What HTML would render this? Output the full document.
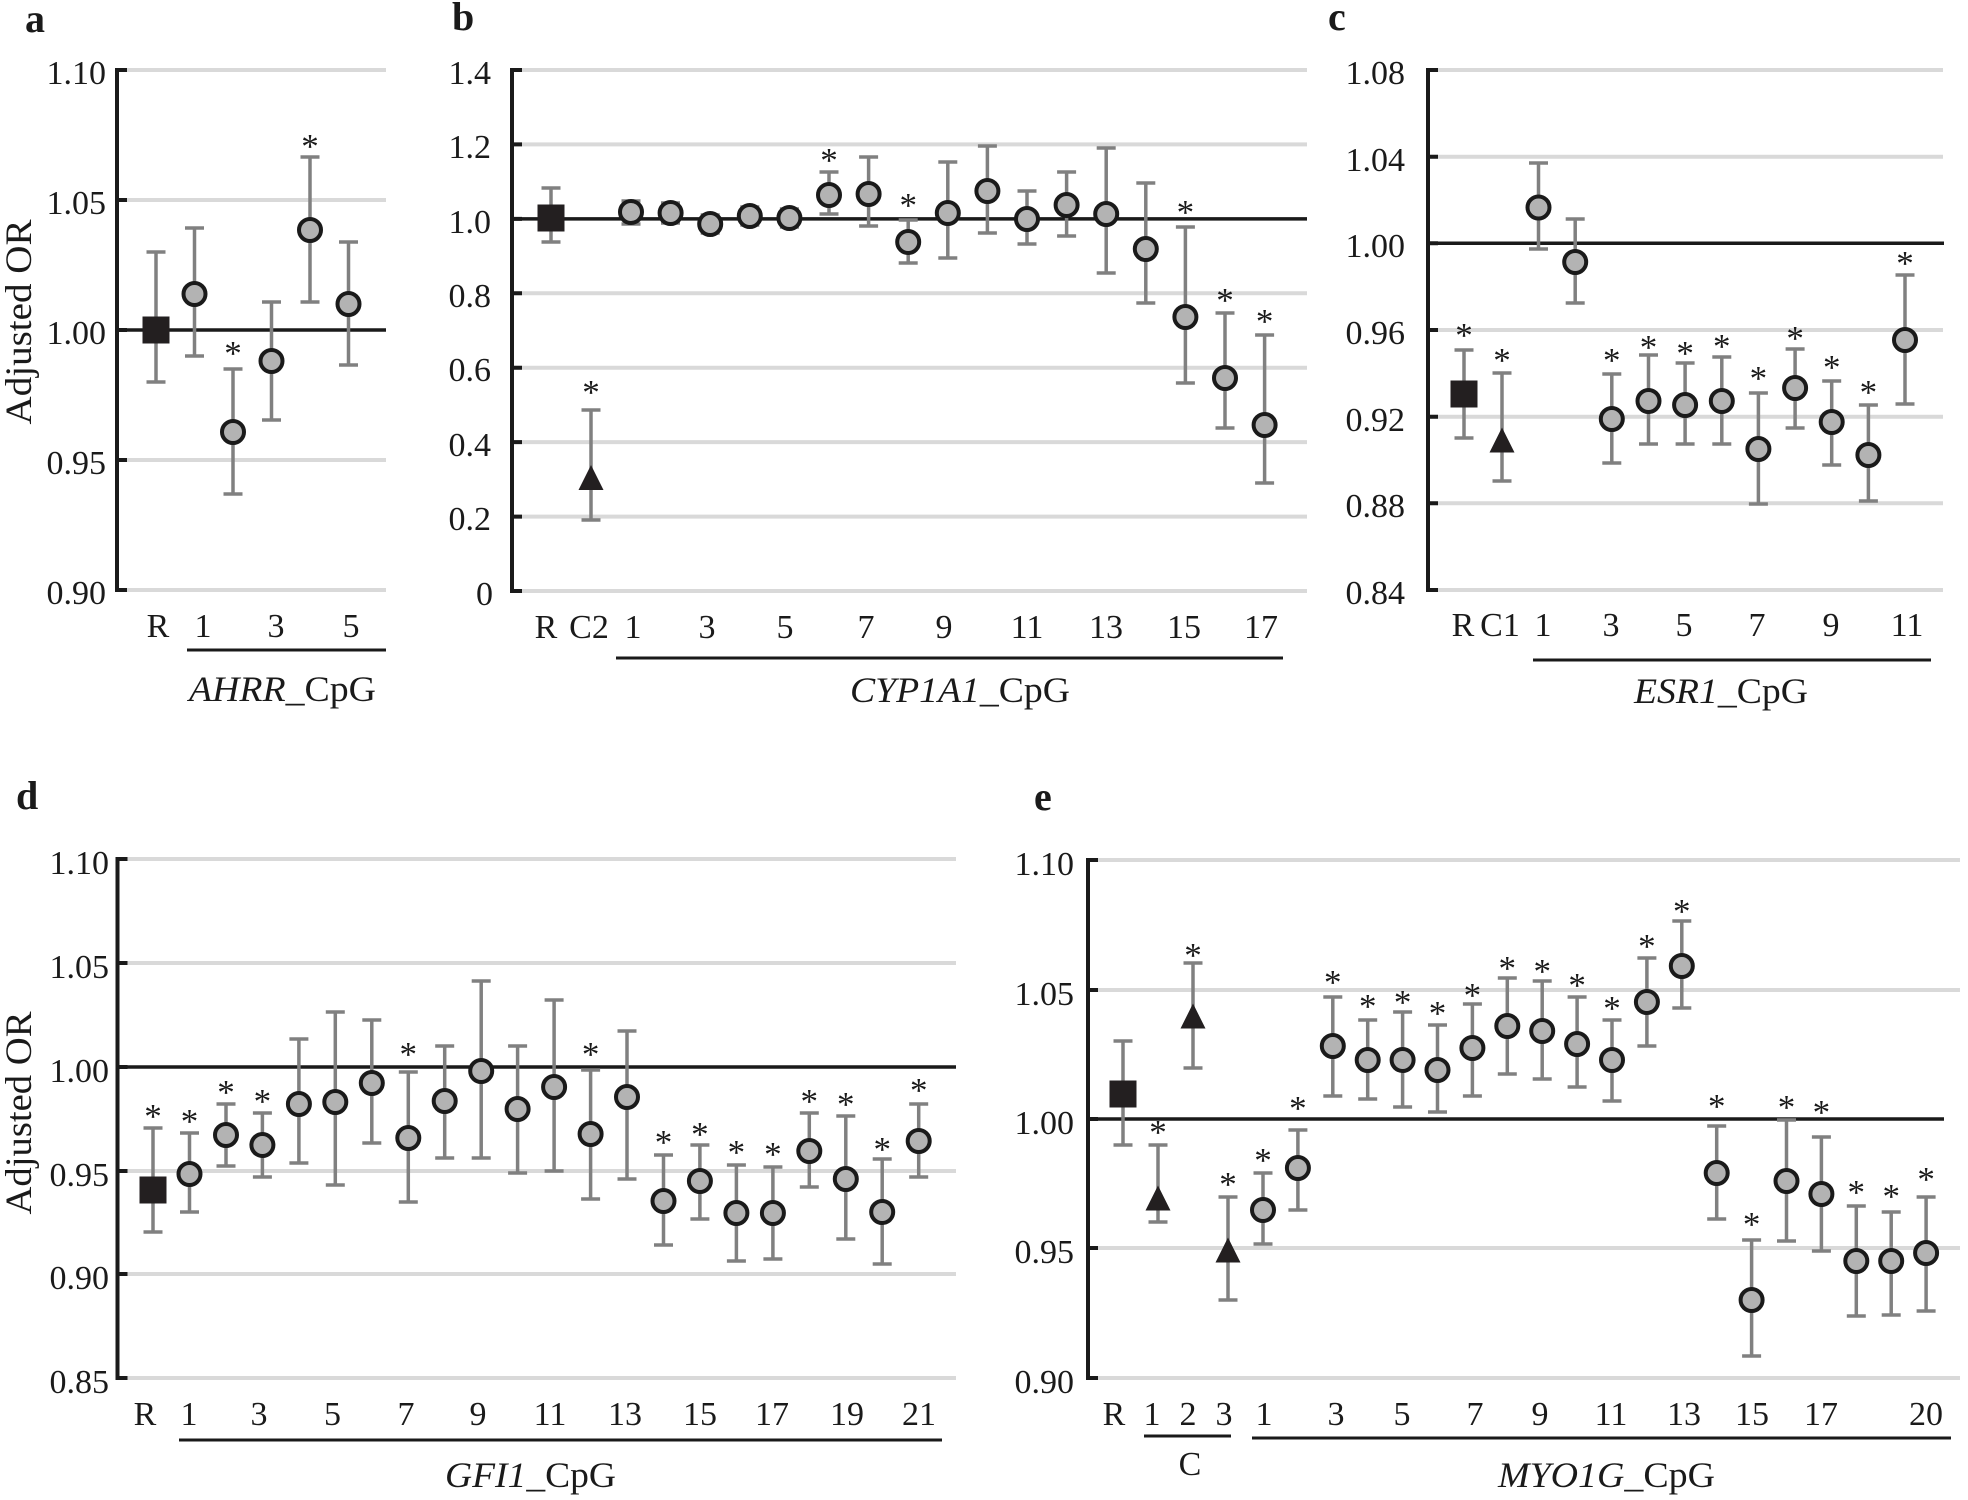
<!DOCTYPE html>
<html><head><meta charset="utf-8"><style>
html,body{margin:0;padding:0;background:#fff;}
svg{display:block;}
text{font-family:"Liberation Serif","Times New Roman",serif;fill:#1a1a1a;}
.t{font-size:34px;}
.ast{font-size:35px;text-anchor:middle;}
.lab{font-size:40px;font-weight:bold;}
.ttl{font-size:36px;}
.g{stroke:#d9d9d9;stroke-width:4;fill:none;}
.ax{stroke:#1a1a1a;stroke-width:4;fill:none;}
.ref{stroke:#1a1a1a;stroke-width:3.5;fill:none;}
.eb{stroke:#808080;stroke-width:3.5;fill:none;}
.c{fill:#b3b3b3;stroke:#1a1a1a;stroke-width:4;}
.k{fill:#231f20;}
.ul{stroke:#1a1a1a;stroke-width:3;fill:none;}
</style></head><body>
<svg width="1968" height="1500" viewBox="0 0 1968 1500" xmlns="http://www.w3.org/2000/svg">

<!-- ========== Panel a ========== -->
<text class="lab" x="25" y="32">a</text>
<path class="g" d="M117 70H386M117 200H386M117 460H386M117 590H386"/>
<path class="ref" d="M117 330H386"/>
<path class="ax" d="M117 68V592M117 70h10M117 200h10M117 330h10M117 460h10M117 590h10"/>
<g class="t" text-anchor="end">
<text x="106" y="84">1.10</text><text x="106" y="214">1.05</text><text x="106" y="344">1.00</text><text x="106" y="474">0.95</text><text x="106" y="604">0.90</text>
</g>
<text class="ttl" transform="translate(31,322) rotate(-90)" text-anchor="middle" textLength="205" lengthAdjust="spacingAndGlyphs" style="font-size:37px">Adjusted OR</text>
<path class="eb" d="M156 252V382M146.5 252H165.5M146.5 382H165.5
M194.5 228V356M185 228H204M185 356H204
M233 369V494M223.5 369H242.5M223.5 494H242.5
M271.5 302V420M262 302H281M262 420H281
M310 157V302M300.5 157H319.5M300.5 302H319.5
M348.5 242V365M339 242H358M339 365H358"/>
<rect class="k" x="142.5" y="316.5" width="27" height="27"/>
<circle class="c" cx="194.5" cy="294" r="11"/>
<circle class="c" cx="233" cy="432" r="11"/>
<circle class="c" cx="271.5" cy="361" r="11"/>
<circle class="c" cx="310" cy="230" r="11"/>
<circle class="c" cx="348.5" cy="304" r="11"/>
<text class="ast" x="233" y="365">*</text>
<text class="ast" x="310" y="158">*</text>
<g class="t" text-anchor="middle">
<text x="158" y="637">R</text><text x="203" y="637">1</text><text x="276" y="637">3</text><text x="351" y="637">5</text>
</g>
<path class="ul" d="M187 650H386"/>
<text class="ttl" x="189" y="701" textLength="187" lengthAdjust="spacingAndGlyphs"><tspan font-style="italic">AHRR</tspan>_CpG</text>

<!-- ========== Panel b ========== -->
<text class="lab" x="452" y="30">b</text>
<path class="g" d="M512 70H1307M512 144.4H1307M512 293.3H1307M512 367.7H1307M512 442.1H1307M512 516.6H1307M512 591H1307"/>
<path class="ref" d="M512 218.9H1307"/>
<path class="ax" d="M512 68V593M512 70h10M512 144.4h10M512 218.9h10M512 293.3h10M512 367.7h10M512 442.1h10M512 516.6h10M512 591h10"/>
<g class="t" text-anchor="end">
<text x="491" y="84">1.4</text><text x="491" y="158">1.2</text><text x="491" y="233">1.0</text><text x="491" y="307">0.8</text><text x="491" y="381">0.6</text><text x="491" y="456">0.4</text><text x="491" y="530">0.2</text><text x="493" y="605">0</text>
</g>
<path class="eb" d="M551 188V242M541.5 188H560.5M541.5 242H560.5
M591 410V520M581.5 410H600.5M581.5 520H600.5
M631 201V224M621.5 201H640.5M621.5 224H640.5
M670.6 203V223M661 203H680M661 223H680
M710.2 215V233M700.7 215H719.7M700.7 233H719.7
M749.8 207V225M740.3 207H759.3M740.3 225H759.3
M789.4 209V227M779.9 209H798.9M779.9 227H798.9
M829 172V214M819.5 172H838.5M819.5 214H838.5
M868.6 157V226M859.1 157H878.1M859.1 226H878.1
M908.2 220V263M898.7 220H917.7M898.7 263H917.7
M947.8 162V258M938.3 162H957.3M938.3 258H957.3
M987.4 146V233M977.9 146H996.9M977.9 233H996.9
M1027 191V244M1017.5 191H1036.5M1017.5 244H1036.5
M1066.6 172V236M1057.1 172H1076.1M1057.1 236H1076.1
M1106.2 148V273M1096.7 148H1115.7M1096.7 273H1115.7
M1145.8 183V303M1136.3 183H1155.3M1136.3 303H1155.3
M1185.4 227V383M1175.9 227H1194.9M1175.9 383H1194.9
M1225 313V428M1215.5 313H1234.5M1215.5 428H1234.5
M1264.6 335V483M1255.1 335H1274.1M1255.1 483H1274.1"/>
<rect class="k" x="537.5" y="204.5" width="27" height="27"/>
<polygon class="k" points="578.5,490 603.5,490 591,465"/>
<circle class="c" cx="631" cy="212" r="11"/>
<circle class="c" cx="670.6" cy="213" r="11"/>
<circle class="c" cx="710.2" cy="224" r="11"/>
<circle class="c" cx="749.8" cy="216" r="11"/>
<circle class="c" cx="789.4" cy="218" r="11"/>
<circle class="c" cx="829" cy="195" r="11"/>
<circle class="c" cx="868.6" cy="194" r="11"/>
<circle class="c" cx="908.2" cy="242" r="11"/>
<circle class="c" cx="947.8" cy="213" r="11"/>
<circle class="c" cx="987.4" cy="191" r="11"/>
<circle class="c" cx="1027" cy="219" r="11"/>
<circle class="c" cx="1066.6" cy="205" r="11"/>
<circle class="c" cx="1106.2" cy="214" r="11"/>
<circle class="c" cx="1145.8" cy="249" r="11"/>
<circle class="c" cx="1185.4" cy="317" r="11"/>
<circle class="c" cx="1225" cy="378" r="11"/>
<circle class="c" cx="1264.6" cy="425" r="11"/>
<text class="ast" x="591" y="404">*</text>
<text class="ast" x="829" y="172">*</text>
<text class="ast" x="908.2" y="217">*</text>
<text class="ast" x="1185.4" y="224">*</text>
<text class="ast" x="1225" y="312">*</text>
<text class="ast" x="1264.6" y="333">*</text>
<g class="t" text-anchor="middle">
<text x="546" y="638">R</text><text x="589" y="638">C2</text><text x="633" y="638">1</text><text x="707" y="638">3</text><text x="785" y="638">5</text><text x="866" y="638">7</text><text x="944" y="638">9</text><text x="1027" y="638">11</text><text x="1106" y="638">13</text><text x="1184" y="638">15</text><text x="1261" y="638">17</text>
</g>
<path class="ul" d="M616 658H1283"/>
<text class="ttl" x="850" y="702" textLength="220" lengthAdjust="spacingAndGlyphs"><tspan font-style="italic">CYP1A1</tspan>_CpG</text>

<!-- ========== Panel c ========== -->
<text class="lab" x="1328" y="30">c</text>
<path class="g" d="M1428 70H1943M1428 156.7H1943M1428 330H1943M1428 416.7H1943M1428 503.3H1943M1428 590H1943"/>
<path class="ref" d="M1428 243.3H1944"/>
<path class="ax" d="M1428 68V592M1428 70h10M1428 156.7h10M1428 243.3h10M1428 330h10M1428 416.7h10M1428 503.3h10M1428 590h10"/>
<g class="t" text-anchor="end">
<text x="1405" y="84">1.08</text><text x="1405" y="171">1.04</text><text x="1405" y="257">1.00</text><text x="1405" y="344">0.96</text><text x="1405" y="431">0.92</text><text x="1405" y="517">0.88</text><text x="1405" y="604">0.84</text>
</g>
<path class="eb" d="M1464 350V438M1454.5 350H1473.5M1454.5 438H1473.5
M1502 373V481M1492.5 373H1511.5M1492.5 481H1511.5
M1538.5 163V249M1529 163H1548M1529 249H1548
M1575.2 219V303M1565.7 219H1584.7M1565.7 303H1584.7
M1611.8 374V463M1602.3 374H1621.3M1602.3 463H1621.3
M1648.5 355V444M1639 355H1658M1639 444H1658
M1685.1 363V444M1675.6 363H1694.6M1675.6 444H1694.6
M1721.8 357V444M1712.3 357H1731.3M1712.3 444H1731.3
M1758.4 393V504M1748.9 393H1767.9M1748.9 504H1767.9
M1795.1 349V428M1785.6 349H1804.6M1785.6 428H1804.6
M1831.7 381V465M1822.2 381H1841.2M1822.2 465H1841.2
M1868.4 405V501M1858.9 405H1877.9M1858.9 501H1877.9
M1905 275V404M1895.5 275H1914.5M1895.5 404H1914.5"/>
<rect class="k" x="1450.5" y="380.5" width="27" height="27"/>
<polygon class="k" points="1489.5,452.5 1514.5,452.5 1502,427.5"/>
<circle class="c" cx="1538.5" cy="207.5" r="11"/>
<circle class="c" cx="1575.2" cy="262" r="11"/>
<circle class="c" cx="1611.8" cy="419" r="11"/>
<circle class="c" cx="1648.5" cy="401" r="11"/>
<circle class="c" cx="1685.1" cy="405" r="11"/>
<circle class="c" cx="1721.8" cy="401" r="11"/>
<circle class="c" cx="1758.4" cy="449" r="11"/>
<circle class="c" cx="1795.1" cy="388" r="11"/>
<circle class="c" cx="1831.7" cy="422" r="11"/>
<circle class="c" cx="1868.4" cy="455" r="11"/>
<circle class="c" cx="1905" cy="340" r="11"/>
<text class="ast" x="1464" y="347">*</text>
<text class="ast" x="1502" y="372">*</text>
<text class="ast" x="1611.8" y="372">*</text>
<text class="ast" x="1648.5" y="359">*</text>
<text class="ast" x="1685.1" y="365">*</text>
<text class="ast" x="1721.8" y="358">*</text>
<text class="ast" x="1758.4" y="390">*</text>
<text class="ast" x="1795.1" y="350">*</text>
<text class="ast" x="1831.7" y="379">*</text>
<text class="ast" x="1868.4" y="404">*</text>
<text class="ast" x="1905" y="275">*</text>
<g class="t" text-anchor="middle">
<text x="1463" y="636">R</text><text x="1500" y="636">C1</text><text x="1543" y="636">1</text><text x="1611" y="636">3</text><text x="1684" y="636">5</text><text x="1757" y="636">7</text><text x="1831" y="636">9</text><text x="1907" y="636">11</text>
</g>
<path class="ul" d="M1533 660H1931"/>
<text class="ttl" x="1634" y="703" textLength="174" lengthAdjust="spacingAndGlyphs"><tspan font-style="italic">ESR1</tspan>_CpG</text>

<!-- ========== Panel d ========== -->
<text class="lab" x="16" y="809">d</text>
<path class="g" d="M117.5 859H956M117.5 963H956M117.5 1171H956M117.5 1274H956M117.5 1378H956"/>
<path class="ref" d="M117.5 1067H956"/>
<path class="ax" d="M117.5 857V1380M117.5 859h10M117.5 963h10M117.5 1067h10M117.5 1171h10M117.5 1274h10M117.5 1378h10"/>
<g class="t" text-anchor="end">
<text x="109" y="874">1.10</text><text x="109" y="978">1.05</text><text x="109" y="1082">1.00</text><text x="109" y="1186">0.95</text><text x="109" y="1289">0.90</text><text x="109" y="1393">0.85</text>
</g>
<text class="ttl" transform="translate(31,1113) rotate(-90)" text-anchor="middle" textLength="203" lengthAdjust="spacingAndGlyphs" style="font-size:37px">Adjusted OR</text>
<path class="eb" d="M153 1128V1232M143.5 1128H162.5M143.5 1232H162.5
M189.5 1133V1212M180 1133H199M180 1212H199
M226 1104V1166M216.5 1104H235.5M216.5 1166H235.5
M262.4 1113V1177M252.9 1113H271.9M252.9 1177H271.9
M298.9 1039V1163M289.4 1039H308.4M289.4 1163H308.4
M335.3 1012V1185M325.8 1012H344.8M325.8 1185H344.8
M371.8 1020V1143M362.3 1020H381.3M362.3 1143H381.3
M408.3 1072V1202M398.8 1072H417.8M398.8 1202H417.8
M444.7 1046V1158M435.2 1046H454.2M435.2 1158H454.2
M481.2 981V1158M471.7 981H490.7M471.7 1158H490.7
M517.6 1046V1173M508.1 1046H527.1M508.1 1173H527.1
M554.1 1000V1171M544.6 1000H563.6M544.6 1171H563.6
M590.6 1070V1199M581.1 1070H600.1M581.1 1199H600.1
M627 1031V1179M617.5 1031H636.5M617.5 1179H636.5
M663.5 1155V1245M654 1155H673M654 1245H673
M699.9 1145V1219M690.4 1145H709.4M690.4 1219H709.4
M736.4 1165V1261M726.9 1165H745.9M726.9 1261H745.9
M772.9 1167V1259M763.4 1167H782.4M763.4 1259H782.4
M809.3 1113V1187M799.8 1113H818.8M799.8 1187H818.8
M845.8 1116V1239M836.3 1116H855.3M836.3 1239H855.3
M882.2 1159V1264M872.7 1159H891.7M872.7 1264H891.7
M918.7 1104V1177M909.2 1104H928.2M909.2 1177H928.2"/>
<rect class="k" x="139.5" y="1176.5" width="27" height="27"/>
<circle class="c" cx="189.5" cy="1174" r="11"/>
<circle class="c" cx="226" cy="1135" r="11"/>
<circle class="c" cx="262.4" cy="1145" r="11"/>
<circle class="c" cx="298.9" cy="1104" r="11"/>
<circle class="c" cx="335.3" cy="1102" r="11"/>
<circle class="c" cx="371.8" cy="1083" r="11"/>
<circle class="c" cx="408.3" cy="1138" r="11"/>
<circle class="c" cx="444.7" cy="1101" r="11"/>
<circle class="c" cx="481.2" cy="1071" r="11"/>
<circle class="c" cx="517.6" cy="1109" r="11"/>
<circle class="c" cx="554.1" cy="1087" r="11"/>
<circle class="c" cx="590.6" cy="1134" r="11"/>
<circle class="c" cx="627" cy="1097" r="11"/>
<circle class="c" cx="663.5" cy="1201" r="11"/>
<circle class="c" cx="699.9" cy="1181" r="11"/>
<circle class="c" cx="736.4" cy="1213" r="11"/>
<circle class="c" cx="772.9" cy="1213" r="11"/>
<circle class="c" cx="809.3" cy="1151" r="11"/>
<circle class="c" cx="845.8" cy="1179" r="11"/>
<circle class="c" cx="882.2" cy="1212" r="11"/>
<circle class="c" cx="918.7" cy="1141" r="11"/>
<text class="ast" x="153" y="1128">*</text>
<text class="ast" x="189.5" y="1133">*</text>
<text class="ast" x="226" y="1104">*</text>
<text class="ast" x="262.4" y="1113">*</text>
<text class="ast" x="408.3" y="1066">*</text>
<text class="ast" x="590.6" y="1066">*</text>
<text class="ast" x="663.5" y="1154">*</text>
<text class="ast" x="699.9" y="1146">*</text>
<text class="ast" x="736.4" y="1164">*</text>
<text class="ast" x="772.9" y="1166">*</text>
<text class="ast" x="809.3" y="1113">*</text>
<text class="ast" x="845.8" y="1116">*</text>
<text class="ast" x="882.2" y="1161">*</text>
<text class="ast" x="918.7" y="1102">*</text>
<g class="t" text-anchor="middle">
<text x="145" y="1425">R</text><text x="189" y="1425">1</text><text x="259" y="1425">3</text><text x="332.5" y="1425">5</text><text x="406" y="1425">7</text><text x="478" y="1425">9</text><text x="550" y="1425">11</text><text x="625" y="1425">13</text><text x="700" y="1425">15</text><text x="772" y="1425">17</text><text x="847" y="1425">19</text><text x="919" y="1425">21</text>
</g>
<path class="ul" d="M179 1440H942"/>
<text class="ttl" x="445" y="1487" textLength="171" lengthAdjust="spacingAndGlyphs"><tspan font-style="italic">GFI1</tspan>_CpG</text>

<!-- ========== Panel e ========== -->
<text class="lab" x="1034" y="810">e</text>
<path class="g" d="M1088 860H1960M1088 990H1960M1088 1248H1960M1088 1378H1960"/>
<path class="ref" d="M1088 1119H1944"/>
<path class="ax" d="M1088 858V1380M1088 860h10M1088 990h10M1088 1119h10M1088 1248h10M1088 1378h10"/>
<g class="t" text-anchor="end">
<text x="1074" y="875">1.10</text><text x="1074" y="1005">1.05</text><text x="1074" y="1134">1.00</text><text x="1074" y="1263">0.95</text><text x="1074" y="1393">0.90</text>
</g>
<path class="eb" d="M1123 1041V1145M1113.5 1041H1132.5M1113.5 1145H1132.5
M1158 1145V1222M1148.5 1145H1167.5M1148.5 1222H1167.5
M1193 963V1068M1183.5 963H1202.5M1183.5 1068H1202.5
M1228 1197V1300M1218.5 1197H1237.5M1218.5 1300H1237.5
M1263 1173V1244M1253.5 1173H1272.5M1253.5 1244H1272.5
M1297.9 1130V1210M1288.4 1130H1307.4M1288.4 1210H1307.4
M1332.8 997V1096M1323.3 997H1342.3M1323.3 1096H1342.3
M1367.7 1020V1099M1358.2 1020H1377.2M1358.2 1099H1377.2
M1402.6 1012V1107M1393.1 1012H1412.1M1393.1 1107H1412.1
M1437.5 1025V1112M1428 1025H1447M1428 1112H1447
M1472.4 1004V1096M1462.9 1004H1481.9M1462.9 1096H1481.9
M1507.3 978V1074M1497.8 978H1516.8M1497.8 1074H1516.8
M1542.2 981V1079M1532.7 981H1551.7M1532.7 1079H1551.7
M1577.1 997V1087M1567.6 997H1586.6M1567.6 1087H1586.6
M1612 1020V1101M1602.5 1020H1621.5M1602.5 1101H1621.5
M1646.9 958V1046M1637.4 958H1656.4M1637.4 1046H1656.4
M1681.8 921V1008M1672.3 921H1691.3M1672.3 1008H1691.3
M1716.7 1126V1219M1707.2 1126H1726.2M1707.2 1219H1726.2
M1751.6 1240V1356M1742.1 1240H1761.1M1742.1 1356H1761.1
M1786.5 1120V1241M1777 1120H1796M1777 1241H1796
M1821.4 1137V1251M1811.9 1137H1830.9M1811.9 1251H1830.9
M1856.3 1206V1316M1846.8 1206H1865.8M1846.8 1316H1865.8
M1891.2 1212V1315M1881.7 1212H1900.7M1881.7 1315H1900.7
M1926.1 1197V1311M1916.6 1197H1935.6M1916.6 1311H1935.6"/>
<rect class="k" x="1109.5" y="1080.5" width="27" height="27"/>
<polygon class="k" points="1145.5,1210.5 1170.5,1210.5 1158,1185.5"/>
<polygon class="k" points="1180.5,1028.5 1205.5,1028.5 1193,1003.5"/>
<polygon class="k" points="1215.5,1262.5 1240.5,1262.5 1228,1237.5"/>
<circle class="c" cx="1263" cy="1210" r="11"/>
<circle class="c" cx="1297.9" cy="1168" r="11"/>
<circle class="c" cx="1332.8" cy="1046" r="11"/>
<circle class="c" cx="1367.7" cy="1060" r="11"/>
<circle class="c" cx="1402.6" cy="1060" r="11"/>
<circle class="c" cx="1437.5" cy="1070" r="11"/>
<circle class="c" cx="1472.4" cy="1048" r="11"/>
<circle class="c" cx="1507.3" cy="1026" r="11"/>
<circle class="c" cx="1542.2" cy="1031" r="11"/>
<circle class="c" cx="1577.1" cy="1044" r="11"/>
<circle class="c" cx="1612" cy="1060" r="11"/>
<circle class="c" cx="1646.9" cy="1002" r="11"/>
<circle class="c" cx="1681.8" cy="966" r="11"/>
<circle class="c" cx="1716.7" cy="1173" r="11"/>
<circle class="c" cx="1751.6" cy="1300" r="11"/>
<circle class="c" cx="1786.5" cy="1181" r="11"/>
<circle class="c" cx="1821.4" cy="1194" r="11"/>
<circle class="c" cx="1856.3" cy="1261" r="11"/>
<circle class="c" cx="1891.2" cy="1261" r="11"/>
<circle class="c" cx="1926.1" cy="1253" r="11"/>
<text class="ast" x="1158" y="1144">*</text>
<text class="ast" x="1193" y="967">*</text>
<text class="ast" x="1228" y="1196">*</text>
<text class="ast" x="1263" y="1172">*</text>
<text class="ast" x="1297.9" y="1120">*</text>
<text class="ast" x="1332.8" y="994">*</text>
<text class="ast" x="1367.7" y="1018">*</text>
<text class="ast" x="1402.6" y="1014">*</text>
<text class="ast" x="1437.5" y="1025">*</text>
<text class="ast" x="1472.4" y="1007">*</text>
<text class="ast" x="1507.3" y="980">*</text>
<text class="ast" x="1542.2" y="983">*</text>
<text class="ast" x="1577.1" y="997">*</text>
<text class="ast" x="1612" y="1020">*</text>
<text class="ast" x="1646.9" y="958">*</text>
<text class="ast" x="1681.8" y="923">*</text>
<text class="ast" x="1716.7" y="1118">*</text>
<text class="ast" x="1751.6" y="1236">*</text>
<text class="ast" x="1786.5" y="1119">*</text>
<text class="ast" x="1821.4" y="1124">*</text>
<text class="ast" x="1856.3" y="1204">*</text>
<text class="ast" x="1891.2" y="1208">*</text>
<text class="ast" x="1926.1" y="1191">*</text>
<g class="t" text-anchor="middle">
<text x="1114" y="1425">R</text><text x="1152" y="1425">1</text><text x="1188" y="1425">2</text><text x="1224" y="1425">3</text><text x="1264" y="1425">1</text><text x="1336" y="1425">3</text><text x="1402" y="1425">5</text><text x="1475" y="1425">7</text><text x="1540" y="1425">9</text><text x="1611" y="1425">11</text><text x="1684" y="1425">13</text><text x="1752" y="1425">15</text><text x="1821" y="1425">17</text><text x="1926" y="1425">20</text>
</g>
<path class="ul" d="M1144 1436H1231M1252 1438H1951"/>
<text class="t" x="1190" y="1475" text-anchor="middle">C</text>
<text class="ttl" x="1498" y="1487" textLength="217" lengthAdjust="spacingAndGlyphs"><tspan font-style="italic">MYO1G</tspan>_CpG</text>

</svg>
</body></html>
